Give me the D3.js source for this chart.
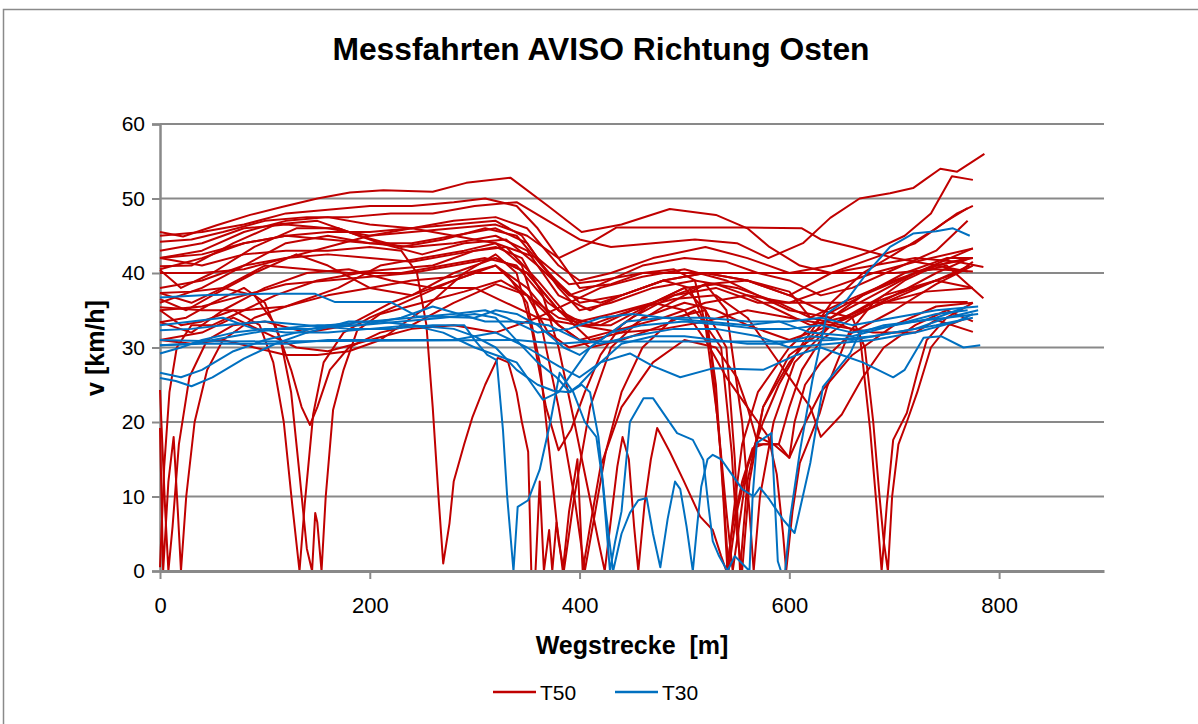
<!DOCTYPE html>
<html>
<head>
<meta charset="utf-8">
<script src="https://cdn.jsdelivr.net/npm/d3@7"></script>
<style>
  body { margin: 0; background: #fff; }
  svg { display: block; font-family: "Liberation Sans", Arial, sans-serif; }
</style>
</head>
<body>
<div class="chart"></div>
<script>
// axis ticks
var xTicks = [0, 200, 400, 600, 800];
var yTicks = [0, 10, 20, 30, 40, 50, 60];

// T50 runs: [distance m, speed km/h]
var t50a = [[0,45.5],[22,44.9],[54,46.4],[86,47.8],[117,48.9],[150,50],[181,50.8],[213,51.1],[260,50.9],[292,52.1],[334,52.8],[370,49],[402,45.5],[440,46.5],[486,48.6],[530,47.8],[560,46],[581,43.5],[610,41],[640,40],[680,41],[720,42],[760,41.5],[785,40.8]];
var t50b = [[0,44.2],[30,44.5],[60,45.5],[100,47],[140,47.5],[180,47.5],[220,48],[260,48],[300,49],[340,49.5],[370,47],[400,44.5],[430,43.5],[470,44],[510,44.5],[550,44],[580,42],[613,44],[639,47.4],[667,50],[696,50.7],[718,51.4],[729,52.5],[744,54],[760,53.6],[786,56]];
var t50c = [[0,42],[40,43],[80,45.5],[120,47],[160,47.5],[200,46.5],[240,46],[280,47],[320,47.5],[350,46],[380,41],[400,39],[430,40],[470,42],[520,43.5],[560,42],[600,40],[640,41],[680,43],[710,45],[735,48],[755,53],[775,52.5]];
var t50d = [[0,40.9],[30,41],[70,44],[110,46.5],[150,47],[190,45],[230,43.5],[270,44.5],[310,46],[340,45],[370,40],[400,36],[440,37],[480,39],[520,40],[560,39],[600,37],[640,40],[680,42],[720,44],[750,47],[770,48.7]];
var t50e = [[0,40.4],[20,38],[50,40],[90,43.5],[130,46],[170,46],[210,44],[250,42.5],[290,44],[330,44.5],[360,41],[390,37],[420,38.5],[460,41],[500,42],[540,41.5],[570,40],[600,39],[630,37],[660,38],[700,40.5],[740,43],[770,47]];
var t50f = [[0,40],[40,40],[80,40.5],[120,42],[160,43.5],[200,45],[240,46],[280,45],[320,44],[360,42],[390,38.5],[420,39],[460,40],[560,40],[700,40],[740,40.5],[775,40.2]];
var t50g = [[0,37.3],[30,36],[60,38],[100,41],[140,40.5],[180,40],[220,40.5],[260,41],[300,43],[330,43.5],[360,39],[390,34],[420,33],[450,35],[490,37],[530,38],[570,36],[600,36],[640,38],[680,40],[720,41.5],[775,43.3]];
var t50h = [[0,36.5],[25,35],[50,37],[90,40],[130,42.5],[160,41],[200,38],[240,37],[280,40],[320,42],[350,40],[380,35],[410,31],[440,32],[480,35.5],[520,38.5],[560,39],[600,37.5],[620,34],[650,36],[700,39],[740,41],[775,42]];
var t50i = [[0,35.4],[40,35],[80,35],[120,35.5],[160,37],[200,38],[240,39],[280,39.5],[320,41],[350,37],[380,33],[400,31],[440,32.5],[480,34],[520,36],[560,37],[600,36],[680,36],[770,36.1]];
var t50j = [[0,33.4],[30,32],[60,35],[100,38],[140,40],[180,40.5],[220,39],[260,38],[300,38],[330,36],[360,34],[390,36],[420,38],[460,39.5],[500,40.5],[540,39],[570,37],[600,35],[640,34],[680,37],[720,40],[750,41],[785,36.6]];
var t50k = [[0,31],[40,32],[70,34],[100,32],[130,30],[160,29.5],[200,31],[240,32.5],[280,33],[320,32],[360,34],[400,33],[440,32],[480,32.5],[520,33.5],[560,35],[600,34],[640,33],[680,32],[720,32],[740,33.7],[775,32.1]];
var t50l = [[0,43],[40,44],[80,46],[120,46.5],[160,46],[200,45],[240,45.5],[280,46],[320,46.5],[350,45],[380,42],[410,44],[435,46.1],[500,46.1],[560,46.1],[612,46],[630,44.5],[660,43.5],[700,42],[740,41],[770,40.2]];
var t50m = [[0,24.3],[5,8],[8,0],[12,6],[18,17],[28,26],[45,31],[70,33],[100,33.5],[140,32],[180,33],[220,36],[260,38],[300,40],[330,40],[350,36],[362,28],[372,15],[380,4],[385,0],[395,10],[410,22],[430,30],[460,34],[500,36],[530,35],[560,33],[600,31],[640,33],[680,36],[720,38],[760,40],[775,41.5]];
var t50n = [[0,19.2],[3,0],[8,12],[13,18],[17,8],[20,0],[25,10],[33,20],[45,27],[60,31],[90,34],[130,36],[170,38],[210,41],[250,42],[290,43],[320,44],[345,41],[365,32],[380,22],[395,10],[405,0],[415,8],[425,16],[440,24],[460,30],[490,34],[520,35],[540,30],[548,15],[553,0],[560,12],[575,22],[600,28],[630,33],[670,37],[710,40],[750,42],[775,42]];
var t50o = [[0,0.5],[4,14],[9,24],[16,30],[30,33],[50,33],[80,35],[110,37],[150,39],[190,40],[230,40],[270,41],[310,42],[340,41],[370,36],[400,33],[430,33],[470,36],[500,38],[520,35],[530,25],[537,10],[541,0],[547,8],[555,17],[570,24],[600,30],[630,34],[670,37],[720,40],[775,43.3]];
var t50p = [[0,35],[20,33],[40,33.5],[70,35],[95,33],[108,28],[118,20],[126,9],[133,0],[138,9],[146,21],[156,28],[175,32],[200,34],[240,36.5],[280,39],[320,41],[350,38],[380,33],[410,30],[440,31],[480,33],[510,35],[535,30],[545,16],[550,5],[555,0],[562,12],[575,22],[600,29],[640,33],[690,36],[740,39],[772,41]];
var t50q = [[0,33.4],[25,34],[50,36],[80,38],[100,36],[115,31],[125,24],[133,13],[140,3],[145,0],[148,7.8],[150,6.5],[154,0],[158,10],[165,21.6],[175,27],[188,32.3],[210,34.5],[250,36],[290,37.5],[325,39],[350,37],[370,32],[390,30],[420,31],[450,34],[490,37],[520,38.5],[540,35],[555,20],[562,8],[566,0],[572,10],[585,20],[605,28],[640,33],[690,37],[740,39],[775,38]];
var t50r = [[0,37.3],[30,37.5],[60,38],[90,37],[110,33],[125,27],[135,22],[143,19.6],[150,22],[162,27],[180,30],[210,32],[240,33],[280,36],[320,38.5],[350,37],[380,34],[410,33],[450,35],[490,36.5],[530,37],[560,34],[580,30],[600,26],[620,22],[630,18],[650,21],[670,26],[690,30],[720,33],[750,35],[775,33.5]];
var t50s = [[0,42],[40,41],[80,42.5],[120,43],[160,43],[200,43.5],[230,43],[245,40],[254,33],[260,22],[266,9],[270,1],[276,6.4],[280,12],[290,17],[298,20.7],[310,25],[322,28.6],[332,28],[340,24],[345,20],[351,16],[354,0],[358,0],[362,12],[366,0],[371,5.5],[374,0],[378,6.5],[381,3.5],[384,0],[390,8],[398,15],[403,0],[410,6],[420,14],[440,22],[470,28],[500,31],[530,30],[550,26],[560,22],[570,17],[590,17],[600,15.2],[612,19],[630,24],[660,29],[700,33],[740,35.5],[775,36]];
var t50t = [[0,31],[30,30.5],[60,31],[90,30],[120,29],[150,29],[180,29.5],[210,31],[250,35],[290,40],[320,42.5],[340,40],[355,32],[368,22],[380,16.2],[392,19],[405,24],[420,29],[440,33],[470,36],[500,38],[530,38.5],[560,37],[590,35],[620,33],[650,34],[690,36],[730,37.5],[775,38]];
var t50u = [[0,38],[40,39],[80,41],[120,42],[160,42.5],[200,42],[240,41.5],[280,42.5],[320,43.5],[345,42],[365,37],[380,30],[395,20],[408,11],[418,4],[424,0],[430,7],[436,14],[441,18],[447,15],[452,6],[456,0],[462,9],[468,15],[474,19.2],[486,16],[499,12.2],[515,7.3],[527,5.5],[535,2],[540,0],[546,6],[555,12],[565,16.5],[575,17],[590,17],[600,22],[612,27],[630,31],[660,34],[700,37],[740,40],[772,42]];
var t50v = [[0,45],[40,45.5],[80,46.5],[120,48],[160,48.5],[200,49],[240,49],[280,49.5],[310,50],[340,49],[360,46],[380,42],[400,38],[430,38.5],[460,40],[490,40.5],[510,39],[525,30],[535,15],[542,0],[550,8],[560,14],[575,20],[590,25],[610,30],[640,36],[670,40],[700,42.5],[740,46],[760,48],[775,49]];
var t50w = [[0,35],[40,35.5],[80,37],[120,38.5],[160,39],[200,39.5],[240,40],[280,41],[320,42],[350,40],[380,35],[400,33.5],[430,34.5],[470,36],[500,35],[520,31],[540,26],[560,22],[570,20],[580,18],[588,13],[594,5],[597,0],[603,8],[610,14.5],[629,21.2],[636,24.7],[657,32],[680,36],[710,39],[740,41],[770,42]];
var t50x = [[0,40.5],[40,42],[80,44],[120,45],[160,44.5],[200,44],[240,44],[280,45],[320,46],[350,44],[380,38],[400,35],[430,36],[470,38],[510,39],[550,38],[590,36],[620,34],[650,33],[667,32],[677,19],[683,9],[688,0],[693,9],[699,17.6],[712,21.2],[722,26.6],[731,31],[750,34],[775,36]];
var t50y = [[0,36],[40,38],[80,41],[120,44],[160,45],[200,44],[240,43.5],[280,44],[320,45],[350,43],[380,37],[410,35],[440,37],[480,39],[520,40],[560,39],[600,37],[630,35],[660,34],[672,30],[680,20],[686,10],[690,4],[694,0],[698,10],[704,17],[712,20],[722,24],[735,30],[752,33],[770,34]];
var t50z = [[0,42],[40,42.5],[80,44],[120,45],[160,45.5],[200,45.5],[240,46],[280,46.5],[320,47],[345,45],[365,41],[390,37],[420,36],[450,37.5],[480,39],[505,38],[520,33],[532,20],[540,8],[546,0],[552,6],[560,14],[570,18],[585,17],[600,15.2],[605,20],[615,25],[630,28],[660,32],[700,35],[740,38.5],[775,41]];

// T30 runs
var t30a = [[0,36.7],[40,37],[100,37.2],[148,37.2],[167,36.1],[220,36.1],[245,34.2],[300,34],[320,35],[340,34.5],[360,33],[385,30],[400,29],[420,31],[445,33.5],[480,34],[520,33.5],[560,33],[590,33.5],[620,32],[660,31.5],[700,33],[740,34],[770,35.5]];
var t30b = [[0,32.3],[30,32.5],[60,33],[100,33.5],[140,33],[180,32.5],[220,32.5],[260,33],[290,33],[300,31],[312,29],[321,28.3],[327,18.9],[331,10],[337,0],[341,8.6],[351,9.5],[362,13.6],[372,19.9],[381,26.6],[394,24],[405,20],[416,18],[422,12],[429,0],[434,4],[440,8],[448,20],[461,23.2],[470,23.2],[493,18.5],[508,17.6],[518,14.9],[523,8.6],[527,4],[533,2],[541,0],[548,2],[555,1],[562,0],[565,10],[569,17.2],[583,18.5],[586,10],[589,1.3],[592,0],[596,0],[601,7.3],[610,16],[622,25.6],[636,34.6],[655,36.4],[674,40],[696,43.5],[718,45.3],[740,45.6],[756,46],[772,45]];
var t30c = [[0,30.3],[30,30.5],[70,31.5],[110,32.5],[150,33],[190,33],[230,33.5],[270,34],[300,34.5],[320,34],[337,31.4],[360,28],[378,26],[391,24],[402,25],[410,24],[418,18],[425,8],[432,0],[440,5],[448,7.8],[456,9.5],[464,9.8],[470,5],[477,0.5],[484,7],[491,12],[496,11],[502,6],[508,0],[512,5.9],[516,11.3],[522,15],[527,15.6],[535,15],[545,13],[555,11],[566,10],[572,11.2],[581,9.6],[594,6.9],[605,5.1],[620,14.5],[632,24.7],[658,29.2],[667,32],[690,33],[720,33.5],[750,34],[780,35]];
var t30d = [[0,30.3],[40,30.5],[120,30.5],[160,31],[280,31],[320,32],[350,30],[380,27.5],[400,26],[420,28],[448,29.2],[470,27.5],[496,26],[527,27.2],[575,27],[607,29],[630,30],[650,29],[670,28],[699,26],[710,27],[728,31.3],[745,31.5],[766,30],[782,30.3]];
var t30e = [[0,26.6],[20,26],[40,27],[70,29.5],[100,31],[130,32],[160,33],[200,33.5],[240,34],[280,34.5],[310,35],[330,34],[360,32],[390,32.5],[420,34],[450,34.5],[480,34],[520,34],[560,33.5],[600,33.5],[630,34],[660,33],[700,34],[740,35],[780,35.5]];
var t30f = [[0,25.9],[15,25.5],[30,24.8],[50,26],[80,28.5],[110,30.5],[140,32],[180,33.5],[210,33.5],[240,33],[280,32.5],[300,31.5],[320,30],[340,27],[360,25],[375,24.2],[390,24],[400,25],[420,28],[440,30.5],[470,31.5],[500,31.5],[530,31],[560,30.5],[590,30.5],[620,31.5],[660,31],[700,32],[740,33],[775,34]];
var t30g = [[0,29.2],[20,30],[40,31],[70,32],[100,32.5],[140,32.5],[190,33],[230,34],[260,35.5],[285,34.5],[310,33.5],[340,33.5],[370,33],[400,31],[420,30.5],[450,31.5],[490,32.5],[530,32.5],[570,31.5],[600,30],[640,30.5],[680,31],[720,32],[760,33.5],[775,34.5]];
var t30h = [[0,31],[60,30.8],[340,31],[380,30.5],[410,30.8],[600,30.8],[640,31],[680,31.5],[720,32.5],[750,34],[780,34.5]];
var t30i = [[0,33],[30,33.5],[60,34],[90,32.5],[120,32],[160,32],[200,32.5],[240,33],[270,32],[300,30],[320,29],[340,28],[355,25],[365,23],[380,24],[395,27],[410,30],[430,32],[460,33],[500,33.5],[540,33],[570,32.5],[600,32.5],[630,33],[660,32],[700,33],[740,34.5],[770,35]];

var t50Runs = [t50a, t50b, t50c, t50d, t50e, t50f, t50g, t50h, t50i, t50j, t50k, t50l, t50m,
               t50n, t50o, t50p, t50q, t50r, t50s, t50t, t50u, t50v, t50w, t50x, t50y, t50z];
var t30Runs = [t30a, t30b, t30c, t30d, t30e, t30f, t30g, t30h, t30i];

var W = 1198, H = 724;
var plot = { left: 160, right: 1104, top: 124, bottom: 571 };
var red = '#c00000', blue = '#0070c0', grid = '#898989';

var svg = d3.select('.chart')
  .append('svg')
    .attr('width', W)
    .attr('height', H);

// chart frame
svg.append('rect')
  .attr('x', 3.5).attr('y', 9.5)
  .attr('width', W + 10).attr('height', H + 10)
  .attr('fill', '#fff')
  .attr('stroke', '#8a8a8a')
  .attr('stroke-width', 1.5);

var x = d3.scaleLinear().domain([0, 900]).range([plot.left, plot.right]);
var y = d3.scaleLinear().domain([0, 60]).range([plot.bottom, plot.top]);

// gridlines
svg.append('g')
  .selectAll('line')
  .data(yTicks.filter(d => d > 0))
  .enter().append('line')
    .attr('x1', plot.left).attr('x2', plot.right)
    .attr('y1', d => y(d)).attr('y2', d => y(d))
    .attr('stroke', grid)
    .attr('stroke-width', 2);

// y axis
var yAxis = svg.append('g')
  .attr('transform', `translate(${plot.left}, 0)`)
  .call(d3.axisLeft(y).tickValues(yTicks).tickSize(8).tickPadding(7));
yAxis.select('.domain').attr('stroke', grid).attr('stroke-width', 2.5);
yAxis.selectAll('.tick line').attr('stroke', grid).attr('stroke-width', 2);
yAxis.selectAll('.tick text')
  .attr('font-size', 21).attr('fill', '#000')
  .style('font-family', '"Liberation Sans", Arial, sans-serif');

var line = d3.line()
  .x(d => x(d[0]))
  .y(d => y(d[1]));

svg.append('g')
  .selectAll('path')
  .data(t50Runs)
  .enter().append('path')
    .attr('d', line)
    .attr('fill', 'none')
    .attr('stroke', red)
    .attr('stroke-width', 2)
    .attr('stroke-linejoin', 'round');

svg.append('g')
  .selectAll('path')
  .data(t30Runs)
  .enter().append('path')
    .attr('d', line)
    .attr('fill', 'none')
    .attr('stroke', blue)
    .attr('stroke-width', 2)
    .attr('stroke-linejoin', 'round');

// x axis (drawn over lines like the original)
var xAxis = svg.append('g')
  .attr('transform', `translate(0, ${plot.bottom})`)
  .call(d3.axisBottom(x).tickValues(xTicks).tickSize(8).tickPadding(18).tickSizeOuter(0));
xAxis.select('.domain').attr('stroke', grid).attr('stroke-width', 3);
xAxis.selectAll('.tick line').attr('stroke', grid).attr('stroke-width', 2);
xAxis.selectAll('.tick text')
  .attr('font-size', 22).attr('fill', '#000')
  .style('font-family', '"Liberation Sans", Arial, sans-serif');

// title
svg.append('text')
  .attr('x', 601).attr('y', 60)
  .attr('text-anchor', 'middle')
  .attr('font-size', 31.8).attr('font-weight', 'bold')
  .text('Messfahrten AVISO Richtung Osten');

// axis titles
svg.append('text')
  .attr('x', 632).attr('y', 654)
  .attr('text-anchor', 'middle')
  .attr('font-size', 25).attr('font-weight', 'bold')
  .attr('xml:space', 'preserve')
  .style('white-space', 'pre')
  .text('Wegstrecke  [m]');

svg.append('text')
  .attr('transform', 'translate(104, 348) rotate(-90)')
  .attr('text-anchor', 'middle')
  .attr('font-size', 25).attr('font-weight', 'bold')
  .text('v [km/h]');

// legend
var legend = [{ name: 'T50', color: red, x: 493 }, { name: 'T30', color: blue, x: 615 }];
var lg = svg.append('g').selectAll('g').data(legend).enter().append('g')
  .attr('transform', d => `translate(${d.x}, 692)`);
lg.append('line')
  .attr('x1', 0).attr('x2', 43)
  .attr('stroke', d => d.color).attr('stroke-width', 2.5);
lg.append('text')
  .attr('x', 47).attr('y', 8)
  .attr('font-size', 21)
  .text(d => d.name);
</script>
</body>
</html>
